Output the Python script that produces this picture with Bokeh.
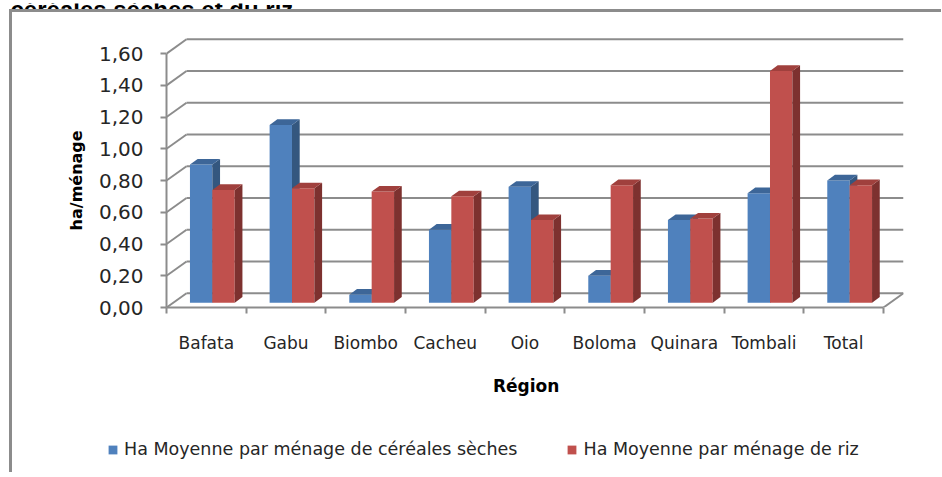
from bokeh.plotting import figure
from bokeh.layouts import column
from bokeh.models import Range1d, FixedTicker, Legend, LegendItem, Label
from bokeh.embed import file_html
from bokeh.resources import INLINE

# ---------------- data ----------------
regions = ["Bafata", "Gabu", "Biombo", "Cacheu", "Oio", "Boloma", "Quinara", "Tombali", "Total"]
cereales = [0.87, 1.12, 0.05, 0.46, 0.73, 0.17, 0.52, 0.69, 0.77]
riz = [0.71, 0.72, 0.70, 0.67, 0.52, 0.74, 0.53, 1.46, 0.74]
y_ticks = [0.0, 0.2, 0.4, 0.6, 0.8, 1.0, 1.2, 1.4, 1.6]
y_labels = ["0,00", "0,20", "0,40", "0,60", "0,80", "1,00", "1,20", "1,40", "1,60"]
series_names = ["Ha Moyenne par ménage de céréales sèches", "Ha Moyenne par ménage de riz"]
x_title = "Région"
y_title = "ha/ménage"
doc_title_tail = "céréales sèches et du riz."

# ---------------- styling / geometry ----------------
FONT = "DejaVu Sans"
GRID = "#8c8c8c"
NBSP = "\u00a0"                # used only to nudge the centred axis titles
DX, DY = 0.2513, 0.0901        # depth of the 3-D box (data units)
BAR_D0 = 0.34                  # depth fraction of bar front faces
BDX, BDY = 0.0967, 0.0353      # bar depth
BW = 0.281                     # bar width (category units)
CENTER = 0.49
front_cols = ["#4F81BD", "#C0504D"]
side_cols = ["#34577F", "#7D312F"]
top_cols = ["#3D6698", "#A0403D"]

n = len(regions)
series = [cereales, riz]

# cut-off document title line above the chart
p0 = figure(width=400, height=9, output_backend="svg", toolbar_location=None,
            x_range=Range1d(0, 1), y_range=Range1d(0, 1),
            x_axis_location=None, y_axis_location=None,
            min_border_left=0, min_border_right=0, min_border_top=0, min_border_bottom=0)
p0.outline_line_color = None
p0.xgrid.visible = False
p0.ygrid.visible = False
p0.frame_align = False
p0.add_layout(Label(x=10, y=3, x_units="screen", y_units="screen", text=doc_title_tail,
                    text_font="Liberation Sans", text_font_style="bold",
                    text_font_size="24px", text_baseline="alphabetic", text_color="#000000"))

p = figure(width=929, height=415, output_backend="svg", toolbar_location=None,
           x_range=Range1d(0, n + DX), y_range=Range1d(0, 271 / 158.7),
           min_border_left=154, min_border_right=38, min_border_top=24,
           min_border_bottom=120)
p.outline_line_color = None
p.xgrid.visible = False
p.ygrid.visible = False
p.frame_align = False
p.background_fill_color = "white"
p.border_fill_color = "white"

# back wall gridlines and side wall slants
p.segment(x0=[DX] * len(y_ticks), x1=[n + DX] * len(y_ticks),
          y0=[v + DY for v in y_ticks], y1=[v + DY for v in y_ticks],
          line_color=GRID, line_width=2)
p.segment(x0=[0] * len(y_ticks), x1=[DX] * len(y_ticks),
          y0=y_ticks, y1=[v + DY for v in y_ticks],
          line_color=GRID, line_width=2)
# floor right edge
p.segment(x0=[n], x1=[n + DX], y0=[0], y1=[DY], line_color=GRID, line_width=2)

# bars
geo = []
for s, vals in enumerate(series):
    lefts = [i + CENTER - BW + s * BW + BAR_D0 * DX for i in range(n)]
    rights = [l + BW for l in lefts]
    bottoms = [BAR_D0 * DY] * n
    tops = [v + BAR_D0 * DY for v in vals]
    geo.append((lefts, rights, bottoms, tops))
    p.quad(left=lefts, right=rights, bottom=bottoms, top=tops,
           fill_color=front_cols[s], line_color=None)
    side_xs = [[rr, rr + BDX, rr + BDX, rr] for rr in rights]
    side_ys = [[b, b + BDY, t + BDY, t] for b, t in zip(bottoms, tops)]
    p.patches(side_xs, side_ys, fill_color=side_cols[s], line_color=None)
    top_xs = [[l, rr, rr + BDX, l + BDX] for l, rr in zip(lefts, rights)]
    top_ys = [[t, t, t + BDY, t + BDY] for t in tops]
    p.patches(top_xs, top_ys, fill_color=top_cols[s], line_color=None)

# y axis
ya = p.yaxis[0]
ya.ticker = FixedTicker(ticks=y_ticks)
ya.bounds = (0, 1.6)
ya.major_label_overrides = {v: l for v, l in zip(y_ticks, y_labels)}
ya.axis_line_color = GRID
ya.axis_line_width = 2
ya.major_tick_line_color = GRID
ya.major_tick_line_width = 2
ya.major_tick_out = 6
ya.major_tick_in = 0
ya.minor_tick_line_color = None
ya.major_label_standoff = 17
ya.major_label_text_font = FONT
ya.major_label_text_font_size = "20px"
ya.major_label_text_color = "#262626"
ya.axis_label = y_title + NBSP * 3
ya.axis_label_text_font = FONT
ya.axis_label_text_font_style = "bold"
ya.axis_label_text_font_size = "16px"
ya.axis_label_text_color = "#000000"
ya.axis_label_standoff = 10

# x axis
xa = p.xaxis[0]
xa.ticker = FixedTicker(ticks=[i + 0.5 for i in range(n)], minor_ticks=list(range(n + 1)))
xa.bounds = (0, n)
xa.major_label_overrides = {i + 0.5: r for i, r in enumerate(regions)}
xa.axis_line_color = GRID
xa.axis_line_width = 2
xa.major_tick_line_color = None
xa.major_tick_out = 6
xa.major_tick_in = 0
xa.minor_tick_line_color = GRID
xa.minor_tick_line_width = 2
xa.minor_tick_out = 6
xa.minor_tick_in = 0
xa.major_label_standoff = 19
xa.major_label_orientation = "horizontal"
xa.major_label_text_font = FONT
xa.major_label_text_font_size = "17px"
xa.major_label_text_color = "#262626"
xa.axis_label = x_title + NBSP * 3
xa.axis_label_text_font = FONT
xa.axis_label_text_font_style = "bold"
xa.axis_label_text_font_size = "17px"
xa.axis_label_text_color = "#000000"
xa.axis_label_standoff = 20

# legend strip below the chart (keys are hidden copies of the series bars)
p2 = figure(width=929, height=45, output_backend="svg", toolbar_location=None,
            x_range=Range1d(0, 1), y_range=Range1d(0, 1),
            x_axis_location=None, y_axis_location=None,
            min_border_left=0, min_border_right=0, min_border_top=0, min_border_bottom=0)
p2.outline_line_color = None
p2.xgrid.visible = False
p2.ygrid.visible = False
p2.frame_align = False
keys = []
for s in range(2):
    lefts, rights, bottoms, tops = geo[s]
    keys.append(p2.quad(left=lefts, right=rights, bottom=bottoms, top=tops,
                        fill_color=front_cols[s], line_color=None, visible=False))
lg = Legend(items=[LegendItem(label=series_names[s], renderers=[keys[s]]) for s in range(2)],
            location=(95, 13), orientation="horizontal",
            glyph_width=11, glyph_height=11, label_standoff=6,
            padding=0, margin=0, spacing=49,
            border_line_color=None, background_fill_alpha=0,
            inactive_fill_alpha=0,
            label_text_font=FONT, label_text_font_size="17.5px",
            label_text_color="#262626", label_height=20)
p2.add_layout(lg)

chart = column(p, p2, spacing=0,
               styles={"border-top": "3px solid #8c8c8c", "border-left": "3px solid #8c8c8c",
                       "margin-left": "9px"})
layout = column(p0, chart, spacing=0)

open("out.html", "w").write(file_html(layout, INLINE))
